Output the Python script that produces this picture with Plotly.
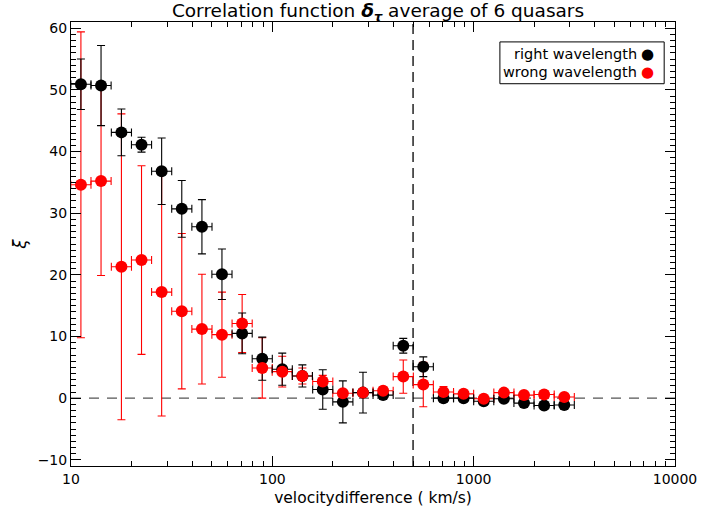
import plotly.graph_objects as go

# velocity difference bin centres (km/s)
velocity = [11.2, 14.1, 17.8, 22.4, 28.2, 35.5, 44.7, 56.2, 70.8, 89.1,
            112, 141, 178, 224, 282, 355, 447, 562, 708, 891,
            1122, 1413, 1778, 2239, 2818]

right_xi = [50.9, 50.7, 43.1, 41.1, 36.8, 30.7, 27.8, 20.1, 10.5, 6.4,
            4.7, 3.6, 1.4, -0.6, 0.9, 0.5, 8.5, 5.1, 0.0, 0.0,
            -0.5, -0.1, -0.8, -1.2, -1.1]
right_err = [4.1, 6.5, 3.8, 1.2, 5.4, 4.6, 4.4, 4.1, 3.3, 3.5,
             2.6, 1.8, 3.2, 3.4, 3.3, 0.6, 1.2, 1.6, 0.6, 0.4,
             0.5, 0.4, 0.4, 0.3, 0.3]

wrong_xi = [34.6, 35.2, 21.3, 22.4, 17.2, 14.1, 11.2, 10.3, 12.1, 4.9,
            4.3, 3.6, 2.7, 0.8, 0.9, 1.2, 3.5, 2.2, 1.0, 0.7,
            -0.1, 0.9, 0.5, 0.6, 0.2]
wrong_err = [24.8, 15.3, 24.8, 15.3, 20.1, 12.6, 8.9, 6.9, 4.7, 4.9,
             2.5, 1.3, 1.0, 0.5, 0.4, 0.6, 2.7, 3.6, 0.9, 0.4,
             0.4, 0.4, 0.3, 0.3, 0.3]

x_ticks = [10, 100, 1000, 10000]
x_tick_text = ["10", "100", "1000", "10000"]
y_ticks = [-10, 0, 10, 20, 30, 40, 50, 60]
y_tick_text = ["−10", "0", "10", "20", "30", "40", "50", "60"]

half_bin_dex = 0.05
x_plus = [v * (10 ** half_bin_dex - 1) for v in velocity]
x_minus = [v * (1 - 10 ** -half_bin_dex) for v in velocity]

RED = "#ff0000"
BLACK = "#000000"
FONT = "DejaVu Sans"

L, R, T, B = 71, 685, 22, 468
W, H = 709, 516
PW, PH = R - L, B - T

fig = go.Figure()

# red error bars (drawn first, under black points)
fig.add_trace(go.Scatter(
    x=velocity, y=wrong_xi, mode="markers",
    marker=dict(size=12, color=RED, opacity=0),
    error_y=dict(type="data", array=wrong_err, color=RED, thickness=1.1, width=4),
    error_x=dict(type="data", symmetric=False, array=x_plus, arrayminus=x_minus,
                 color=RED, thickness=1.1, width=4),
    showlegend=False, hoverinfo="skip"))

fig.add_trace(go.Scatter(
    x=velocity, y=right_xi, mode="markers",
    marker=dict(size=12, color=BLACK),
    error_y=dict(type="data", array=right_err, color=BLACK, thickness=1.1, width=4),
    error_x=dict(type="data", symmetric=False, array=x_plus, arrayminus=x_minus,
                 color=BLACK, thickness=1.1, width=4),
    name="right wavelength", showlegend=False))

fig.add_trace(go.Scatter(
    x=velocity, y=wrong_xi, mode="markers",
    marker=dict(size=12, color=RED),
    name="wrong wavelength", showlegend=False))

# reference lines
fig.add_shape(type="line", xref="paper", yref="y", x0=0, x1=1, y0=0, y1=0,
              line=dict(color="#555555", width=1.3, dash="10px,8px"), layer="below")
fig.add_shape(type="line", xref="x", yref="paper", x0=500, x1=500, y0=0, y1=1,
              line=dict(color=BLACK, width=1.3, dash="10px,6px"), layer="below")

# legend box
fig.add_shape(type="rect", xref="paper", yref="paper",
              x0=(507 - L) / PW, x1=(674 - L) / PW,
              y0=(B - 84) / PH, y1=(B - 42) / PH,
              line=dict(color=BLACK, width=1), fillcolor="white")
for label, col, ypix in [("right wavelength", BLACK, 54), ("wrong wavelength", RED, 72)]:
    fig.add_annotation(xref="paper", yref="paper", x=(648 - L) / PW, y=(B - ypix) / PH,
                       text=label, showarrow=False, xanchor="right", yanchor="middle",
                       font=dict(family=FONT, size=14.5, color=BLACK))
    fig.add_annotation(xref="paper", yref="paper", x=(657 - L) / PW, y=(B - ypix) / PH,
                       text="●", showarrow=False, xanchor="center", yanchor="middle",
                       font=dict(family=FONT, size=15, color=col))

fig.update_layout(
    width=W, height=H,
    margin=dict(l=L, r=W - R, t=T, b=H - B),
    paper_bgcolor="white", plot_bgcolor="white",
    font=dict(family=FONT, size=14, color=BLACK),
    title=dict(text="Correlation function <b><i>δ</i></b><sub><b><i>τ</i></b></sub> average of 6 quasars",
               x=(L + R) / 2 / W, xanchor="center", y=1 - 11 / H, yanchor="middle",
               font=dict(family=FONT, size=18.5, color=BLACK)),
    xaxis=dict(type="log", range=[1, 4], tickvals=x_ticks, ticktext=x_tick_text,
               ticks="inside", ticklen=10, tickcolor=BLACK, showline=True, linecolor=BLACK,
               linewidth=1, mirror="allticks", showgrid=False, zeroline=False,
               tickfont=dict(family=FONT, size=14),
               minor=dict(ticks="inside", ticklen=5, tickcolor=BLACK, dtick="D1", showgrid=False),
               title=dict(text="velocitydifference ( km/s)", standoff=6,
                          font=dict(family=FONT, size=15.5))),
    yaxis=dict(range=[-11, 61], tickvals=y_ticks, ticktext=y_tick_text,
               ticks="inside", ticklen=10, tickcolor=BLACK, showline=True, linecolor=BLACK,
               linewidth=1, mirror="allticks", showgrid=False, zeroline=False,
               tickfont=dict(family=FONT, size=14),
               minor=dict(ticks="inside", ticklen=5, tickcolor=BLACK, dtick=1, showgrid=False),
               title=dict(text="<i>ξ</i>", standoff=6, font=dict(family=FONT, size=17))),
)

fig.write_html("out.html")
